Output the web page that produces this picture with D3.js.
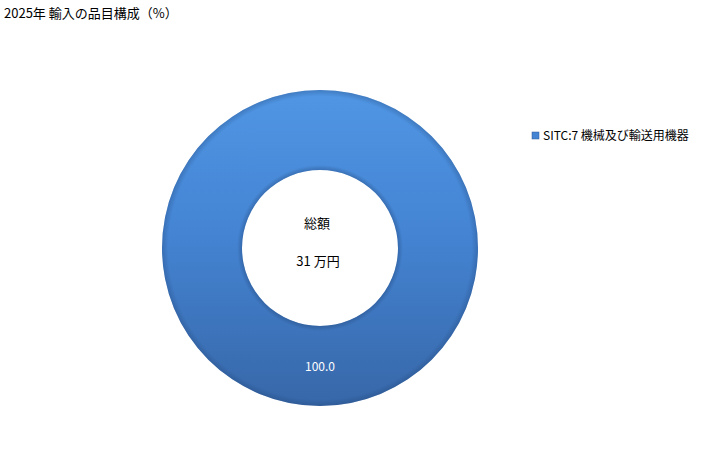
<!DOCTYPE html>
<html>
<head>
<meta charset="utf-8">
<script src="https://cdn.jsdelivr.net/npm/d3@7"></script>
<style>
  body { margin: 0; background: #fff; }
  text { font-family: "Noto Sans CJK JP", "Noto Sans", sans-serif; }
</style>
</head>
<body>
<div id="viz"></div>
<script>
var title = "2025年 輸入の品目構成（%）";
var categories = ["SITC:7 機械及び輸送用機器"];
var shares = [100.0];
var totalLabel = "総額";
var totalValue = "31 万円";

var w = 728, h = 450;
var cx = 320, cy = 248, outerR = 158, innerR = 78;

var svg = d3.select("#viz").append("svg")
    .attr("width", w)
    .attr("height", h);

var defs = svg.append("defs");
var grad = defs.append("linearGradient")
    .attr("id", "ring")
    .attr("x1", 0).attr("y1", 0).attr("x2", 0).attr("y2", 1);
grad.append("stop").attr("offset", "0%").attr("stop-color", "#5096e4");
grad.append("stop").attr("offset", "45%").attr("stop-color", "#4484d3");
grad.append("stop").attr("offset", "100%").attr("stop-color", "#3767a8");

// soft darkening at the inner and outer rims
var shade = defs.append("radialGradient")
    .attr("id", "edge")
    .attr("gradientUnits", "userSpaceOnUse")
    .attr("cx", 0).attr("cy", 0).attr("r", outerR);
shade.append("stop").attr("offset", innerR / outerR).attr("stop-color", "#1d3f70").attr("stop-opacity", 0.35);
shade.append("stop").attr("offset", (innerR + 5) / outerR).attr("stop-color", "#1d3f70").attr("stop-opacity", 0);
shade.append("stop").attr("offset", 0.96).attr("stop-color", "#1d3f70").attr("stop-opacity", 0);
shade.append("stop").attr("offset", 1).attr("stop-color", "#1d3f70").attr("stop-opacity", 0.3);

svg.append("text")
    .attr("x", 4).attr("y", 18)
    .attr("font-size", 13)
    .text(title);

var pie = d3.pie().sort(null).value(function(d){ return d; });
var arc = d3.arc().innerRadius(innerR).outerRadius(outerR);
var arcs = pie(shares);

var g = svg.append("g").attr("transform", "translate(" + cx + "," + cy + ")");

g.selectAll("path.slice")
    .data(arcs)
    .enter()
    .append("path")
    .attr("class", "slice")
    .attr("d", arc)
    .style("fill", "url(#ring)");

g.selectAll("path.shade")
    .data(arcs)
    .enter()
    .append("path")
    .attr("class", "shade")
    .attr("d", arc)
    .style("fill", "url(#edge)");

// value label at the bottom of the ring (single full slice)
var labelR = (innerR + outerR) / 2;
g.selectAll("text.val")
    .data(arcs)
    .enter()
    .append("text")
    .attr("class", "val")
    .attr("x", 0)
    .attr("y", labelR + 5)
    .attr("text-anchor", "middle")
    .attr("font-size", 12)
    .attr("fill", "#fff")
    .text(function(d){ return d.data.toFixed(1); });

g.append("text")
    .attr("x", -3).attr("y", -20)
    .attr("text-anchor", "middle")
    .attr("font-size", 13)
    .text(totalLabel);

g.append("text")
    .attr("x", -2).attr("y", 18)
    .attr("text-anchor", "middle")
    .attr("font-size", 13)
    .text(totalValue);

var legend = svg.append("g").attr("transform", "translate(532,132)");
legend.selectAll("g.item")
    .data(categories)
    .enter()
    .append("g")
    .attr("class", "item")
    .each(function(d, i){
        var it = d3.select(this).attr("transform", "translate(0," + (i * 18) + ")");
        it.append("rect")
            .attr("width", 7).attr("height", 7)
            .style("fill", "#4484d3")
            .style("stroke", "#2d5c99")
            .style("stroke-width", 0.5);
        it.append("text")
            .attr("x", 11).attr("y", 8)
            .attr("font-size", 12)
            .text(d);
    });
</script>
</body>
</html>
